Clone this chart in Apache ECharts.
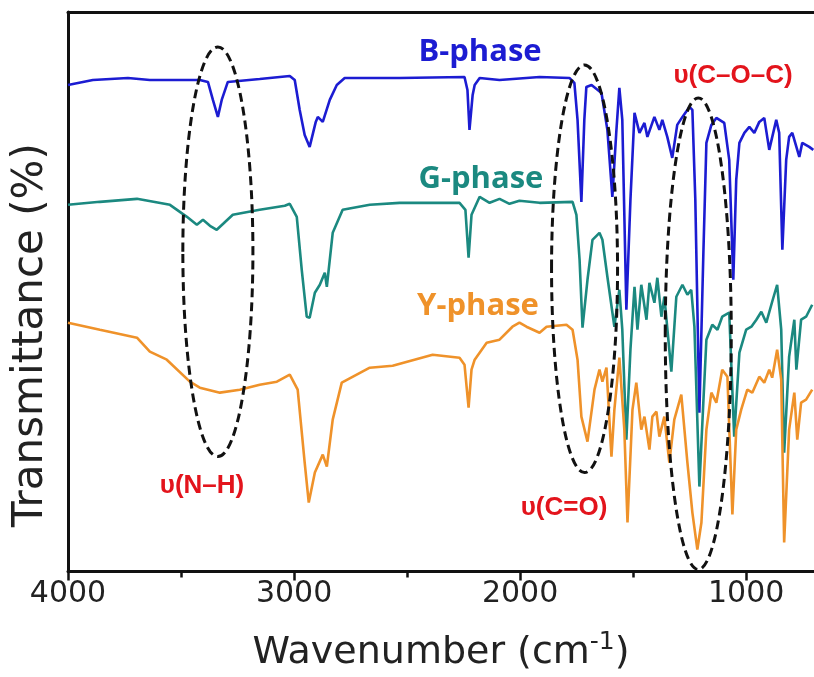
<!DOCTYPE html>
<html>
<head>
<meta charset="utf-8">
<title>FTIR spectra</title>
<script src="https://cdn.jsdelivr.net/npm/echarts@6/dist/echarts.min.js"></script>
<style>
  html, body { margin: 0; padding: 0; background: #fff; }
  #chart { width: 814px; height: 677px; }
</style>
</head>
<body>
<div id="chart"></div>
<script>
// wavenumber (cm-1) and transmittance (arbitrary, offset)
const bWn = [4000,3890,3735,3638,3417,3381,3359,3337,3320,3293,3152,3019,2997,2975,2953,2931,2904,2895,2873,2842,2811,2776,2533,2246,2233,2224,2210,2201,2179,2091,1914,1782,1760,1746,1729,1716,1707,1684,1640,1614,1592,1574,1561,1548,1530,1512,1494,1472,1450,1437,1406,1384,1371,1349,1327,1305,1282,1251,1238,1225,1207,1189,1176,1154,1132,1097,1075,1057,1044,1030,1008,986,964,942,920,898,867,854,840,823,810,796,765,752,721,703];
const bT = [487,492,494,492,492,490,472,455,472,490,493,496,492,462,437,425,450,455,450,472,487,494,494,495,482,442,477,487,494,492,495,494,489,452,370,452,485,487,479,442,375,442,484,452,262,372,459,439,449,435,455,442,452,435,414,447,455,465,462,372,159,322,429,447,454,449,412,292,392,429,439,445,439,450,454,422,452,439,322,412,435,439,415,429,425,422];

const gWn = [4000,3859,3695,3549,3474,3430,3403,3372,3342,3271,3152,3041,3019,2988,2966,2944,2931,2908,2886,2864,2855,2829,2785,2665,2533,2268,2242,2228,2215,2179,2135,2091,2047,2003,1914,1768,1751,1737,1724,1702,1680,1649,1636,1614,1583,1561,1548,1530,1512,1494,1481,1464,1441,1428,1406,1393,1375,1362,1331,1309,1282,1260,1243,1229,1207,1189,1176,1150,1127,1106,1075,1053,1030,1000,977,955,933,911,885,863,845,832,810,787,778,757,735,708];
const gT = [367,370,373,367,355,347,352,346,342,357,362,366,368,355,302,255,254,279,287,299,285,339,362,367,369,369,362,314,357,375,369,373,368,371,369,370,357,312,244,292,332,339,332,295,245,282,242,132,222,285,242,287,252,289,269,294,255,275,200,275,287,277,282,245,85,172,232,247,242,255,259,135,219,242,245,252,260,249,270,287,242,119,215,252,202,252,255,267];

const yWn = [4000,3859,3695,3638,3563,3461,3417,3328,3240,3152,3076,3019,2984,2953,2935,2908,2873,2855,2829,2789,2665,2564,2387,2268,2246,2228,2215,2201,2148,2091,2034,2003,1972,1914,1883,1795,1768,1746,1729,1702,1671,1649,1636,1618,1596,1583,1561,1539,1525,1503,1486,1464,1450,1428,1415,1397,1384,1362,1340,1318,1287,1260,1238,1216,1198,1176,1154,1132,1106,1083,1061,1044,1022,995,973,942,920,898,885,863,845,832,810,787,774,757,735,708];
const yT = [249,242,234,220,212,190,184,179,182,187,190,197,182,109,69,99,117,105,152,189,204,206,217,214,207,164,202,212,229,232,245,249,245,239,245,247,242,212,155,130,182,202,190,204,115,162,214,142,49,162,189,142,155,122,155,160,135,155,109,152,177,109,59,22,49,142,179,169,202,195,57,142,162,182,179,195,189,202,194,222,192,29,142,179,132,169,172,182];

const majorTicks = [4000, 3000, 2000, 1000];
const minorTicks = [3500, 2500, 1500];

// dashed ellipses marking the bands (centre wavenumber / level, half sizes)
const bandWn = [3337, 1715, 1212];
const bandMid = [320, 303, 238];
const bandHalfWn = [155, 146, 146];
const bandHalfT = [205, 204, 236];

const BLUE = '#1c1cd2';
const TEAL = '#1b8980';
const ORANGE = '#ef922a';
const RED = '#e3141c';

const zip = (xs, ys) => xs.map((x, i) => [x, ys[i]]);

const chart = echarts.init(document.getElementById('chart'));

const lineSeries = (name, data, color) => ({
  name: name,
  type: 'line',
  data: data,
  showSymbol: false,
  symbol: 'none',
  lineStyle: { color: color, width: 2.6 },
  itemStyle: { color: color },
  animation: false,
  z: 2
});

chart.setOption({
  animation: false,
  grid: { left: 68, right: 0, top: 12, bottom: 105, containLabel: false },
  xAxis: [
    {
      type: 'value',
      inverse: true,
      min: 700,
      max: 4000,
      position: 'bottom',
      name: 'Wavenumber (cm{sup|-1})',
      nameLocation: 'middle',
      nameGap: 58,
      nameTextStyle: {
        fontFamily: 'DejaVu Sans',
        fontSize: 38,
        color: '#222',
        rich: {
          sup: { fontFamily: 'DejaVu Sans', fontSize: 25, color: '#222', padding: [0, 0, 22, 0] }
        }
      },
      axisLine: { show: true, onZero: false, lineStyle: { color: '#111', width: 3 } },
      axisTick: { show: true, inside: false, length: 9, customValues: majorTicks, lineStyle: { color: '#111', width: 2.5 } },
      axisLabel: {
        show: true,
        customValues: majorTicks,
        formatter: (v) => String(v),
        margin: 8,
        fontFamily: 'DejaVu Sans',
        fontSize: 30,
        color: '#222'
      },
      splitLine: { show: false }
    },
    {
      type: 'value',
      inverse: true,
      min: 700,
      max: 4000,
      position: 'bottom',
      axisLine: { show: false },
      axisTick: { show: true, inside: false, length: 6, customValues: minorTicks, lineStyle: { color: '#111', width: 2.5 } },
      axisLabel: { show: false },
      splitLine: { show: false }
    },
    {
      type: 'value',
      inverse: true,
      min: 700,
      max: 4000,
      position: 'top',
      axisLine: { show: true, onZero: false, lineStyle: { color: '#111', width: 3 } },
      axisTick: { show: false },
      axisLabel: { show: false },
      splitLine: { show: false }
    }
  ],
  yAxis: {
    type: 'value',
    min: 0,
    max: 560,
    axisLine: { show: true, onZero: false, lineStyle: { color: '#111', width: 3 } },
    axisTick: { show: false },
    axisLabel: { show: false },
    splitLine: { show: false }
  },
  series: [
    lineSeries('B-phase', zip(bWn, bT), BLUE),
    lineSeries('G-phase', zip(gWn, gT), TEAL),
    lineSeries('Y-phase', zip(yWn, yT), ORANGE)
  ]
});

// ellipses placed through the axes' own scales
const ellipses = bandWn.map((wn, i) => {
  const c = chart.convertToPixel({ gridIndex: 0 }, [wn, bandMid[i]]);
  const e = chart.convertToPixel({ gridIndex: 0 }, [wn + bandHalfWn[i], bandMid[i] + bandHalfT[i]]);
  return {
    type: 'ellipse',
    z: 10,
    shape: { cx: c[0], cy: c[1], rx: Math.abs(c[0] - e[0]), ry: Math.abs(c[1] - e[1]) },
    style: { fill: null, stroke: '#111', lineWidth: 3, lineDash: [9, 5] }
  };
});

const label = (text, x, y, color, size, family) => ({
  type: 'text',
  x: x,
  y: y,
  z: 20,
  style: {
    text: text,
    fill: color,
    fontSize: size,
    fontWeight: 'bold',
    fontFamily: family,
    align: 'center',
    verticalAlign: 'middle'
  }
});

chart.setOption({
  graphic: ellipses.concat([
    label('B-phase', 480, 52, BLUE, 31, 'Open Sans'),
    label('G-phase', 481, 179, TEAL, 31, 'Open Sans'),
    label('Y-phase', 478, 306, ORANGE, 31, 'Open Sans'),
    label('υ(N–H)', 202, 486, RED, 26, 'Liberation Sans'),
    label('υ(C=O)', 564, 508, RED, 26, 'Liberation Sans'),
    label('υ(C–O–C)', 733, 76, RED, 26, 'Liberation Sans'),
    {
      type: 'text',
      x: 31,
      y: 335,
      rotation: Math.PI / 2,
      z: 20,
      style: {
        text: 'Transmittance (%)',
        fill: '#222',
        fontSize: 42,
        fontFamily: 'DejaVu Sans',
        align: 'center',
        verticalAlign: 'middle'
      }
    }
  ])
});

window.addEventListener('resize', () => chart.resize());
</script>
</body>
</html>
